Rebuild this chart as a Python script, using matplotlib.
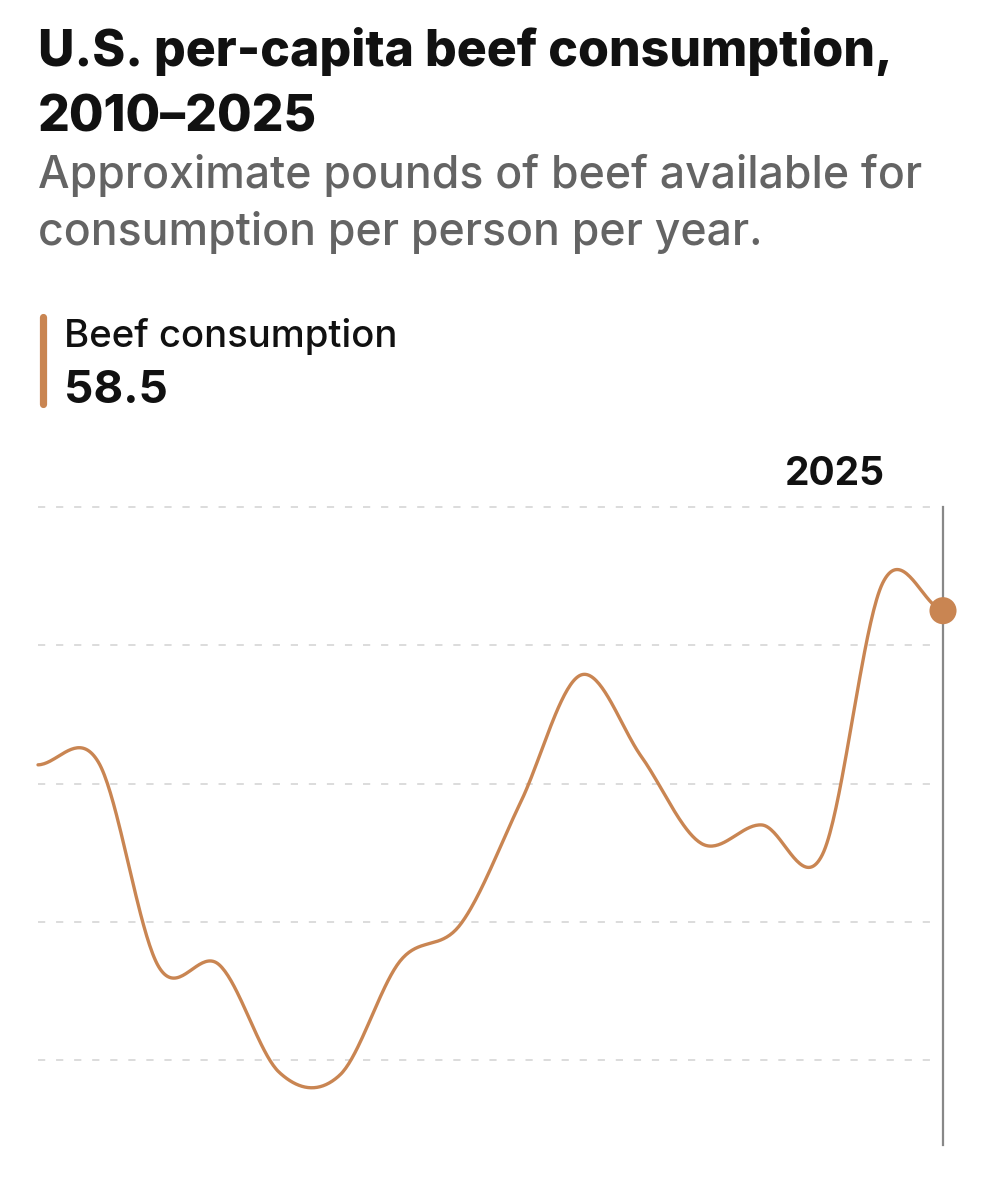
import matplotlib
matplotlib.use("Agg")
import matplotlib.pyplot as plt
from matplotlib.lines import Line2D
import numpy as np

# data (lbs per person, approx.)
years = list(range(2010, 2026))
beef = [56.27, 56.31, 53.35, 53.38, 51.82, 51.78, 53.43, 53.96,
        55.73, 57.57, 56.39, 55.13, 55.40, 54.97, 58.90, 58.50]
grid_vals = [60, 58, 56, 54, 52]
title = ["U.S. per-capita beef consumption,", "2010\u20132025"]
subtitle = ["Approximate pounds of beef available for",
            "consumption per person per year."]
series_name = "Beef consumption"
highlight_year = 2025

W, H = 982, 1200
col = "#c98552"
plt.rcParams["font.family"] = ["Inter", "DejaVu Sans"]


def fx(px):
    return px / W


def fy(py):
    return 1 - py / H


def catmull(x, y, n=40):
    # cubic hermite with catmull-rom tangents (like d3 curveCardinal)
    x = np.asarray(x, float)
    y = np.asarray(y, float)
    m = np.zeros_like(y)
    m[1:-1] = (y[2:] - y[:-2]) / 2
    m[0] = (y[1] - y[0]) / 2
    m[-1] = (y[-1] - y[-2]) / 2
    xs, ys = [], []
    for i in range(len(x) - 1):
        t = np.linspace(0, 1, n, endpoint=False)
        h00 = 2*t**3 - 3*t**2 + 1
        h10 = t**3 - 2*t**2 + t
        h01 = -2*t**3 + 3*t**2
        h11 = t**3 - t**2
        xs.append(x[i] + t*(x[i+1] - x[i]))
        ys.append(h00*y[i] + h10*m[i] + h01*y[i+1] + h11*m[i+1])
    xs.append([x[-1]])
    ys.append([y[-1]])
    return np.concatenate(xs), np.concatenate(ys)


fig = plt.figure(figsize=(W/100, H/100), dpi=100)

# headline block
fig.text(fx(38), fy(66), title[0], fontsize=36, fontweight="heavy", color="#111111", va="baseline")
fig.text(fx(38), fy(131), title[1], fontsize=36, fontweight="heavy", color="#111111", va="baseline")
fig.text(fx(38), fy(188), subtitle[0], fontsize=32.1, fontweight="medium", color="#646464", va="baseline")
fig.text(fx(38), fy(245), subtitle[1], fontsize=32.1, fontweight="medium", color="#646464", va="baseline")

# legend
fig.add_artist(Line2D([fx(43), fx(43)], [fy(317), fy(404)], color=col, lw=5.2,
                      solid_capstyle="round", transform=fig.transFigure))
fig.text(fx(64), fy(347), series_name, fontsize=27.6, fontweight="medium",
         color="#111111", va="baseline")
fig.text(fx(64), fy(403), f"{beef[-1]:.1f}", fontsize=33, fontweight="bold",
         color="#111111", va="baseline")

# chart area: 60 at y=507px, 52 at y=1060px
top_px, bot_px = 507, 1145
ppl = (1060 - 507) / 8
ymin = 60 - (bot_px - top_px) / ppl
ax = fig.add_axes([fx(38), fy(bot_px), fx(943) - fx(38), (bot_px - top_px) / H])
ax.set_xlim(2010, 2025)
ax.set_ylim(ymin, 60)
ax.axis("off")

for g in grid_vals:
    ax.plot([2010, 2024.85], [g, g], color="#d9d9d9", lw=1.3, ls=(0, (4, 6)),
            clip_on=False, zorder=1)

ax.plot([highlight_year, highlight_year], [ymin, 60], color="#888888", lw=1.6,
        clip_on=False, zorder=2)

sx, sy = catmull(years, beef)
ax.plot(sx, sy, color=col, lw=2.4, solid_capstyle="round", clip_on=False, zorder=3)
ax.scatter([years[-1]], [beef[-1]], s=380, color=col, zorder=4, clip_on=False,
           edgecolors="none")

fig.text(fx(885), fy(485), str(highlight_year), fontsize=28, fontweight="bold",
         color="#111111", ha="right", va="baseline")

fig.savefig("out.png", dpi=100, facecolor="white")
